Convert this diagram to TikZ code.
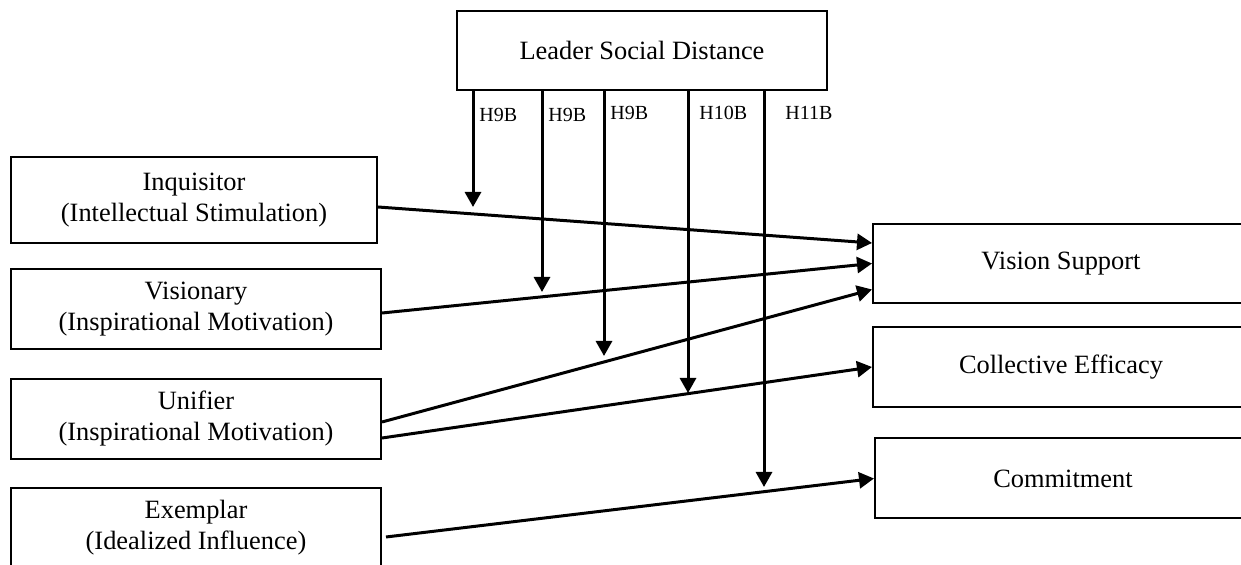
\documentclass[tikz,border=0pt]{standalone}
\usepackage{fontspec}
\setmainfont{Liberation Serif}
\usetikzlibrary{arrows.meta}

\begin{document}
\begin{tikzpicture}[x=0.5pt, y=-0.5pt,
    box/.style={draw, line width=1pt, inner sep=0pt, align=center,
      minimum width=185pt, minimum height=40pt,
      font=\fontsize{13.2}{15.5}\selectfont},
    hyp/.style={anchor=west, inner sep=0pt, font=\fontsize{10}{12}\selectfont},
    link/.style={line width=1.5pt, -{Triangle[length=7.5pt,width=8pt]}}]
  \useasboundingbox (0,0) rectangle (1241,565);
  \clip (0,0) rectangle (1241,565);

  % moderator
  \node[box, minimum height=39.5pt] (lsd) at (642,50.5) {Leader Social Distance};

  % leader roles
  \node[box, minimum width=183pt, minimum height=43pt] (inq) at (194,200)
    {Inquisitor\\(Intellectual Stimulation)};
  \node[box] (vis) at (196,309) {Visionary\\(Inspirational Motivation)};
  \node[box] (uni) at (196,419) {Unifier\\(Inspirational Motivation)};
  \node[box] (exm) at (196,528) {Exemplar\\(Idealized Influence)};

  % outcomes
  \node[box, minimum width=188pt, minimum height=39.5pt] (vs) at (1061,263.5) {Vision Support};
  \node[box, minimum width=188pt] (ce)  at (1061,367) {Collective Efficacy};
  \node[box, minimum width=188pt] (com) at (1063,478.5) {Commitment};

  % moderating paths
  \coordinate (m1) at (473,207);
  \coordinate (m2) at (542,292);
  \coordinate (m3) at (604,356);
  \coordinate (m4) at (688,393);
  \coordinate (m5) at (764,487);
  \foreach \m in {m1,m2,m3,m4,m5}
    \draw[link] (lsd.south -| \m) -- (\m);

  \node[hyp] (h1) at (479,115) {H9B};
  \node[hyp] (h2) at (548,115) {H9B};
  \node[hyp] (h3) at (610,113) {H9B};
  \node[hyp] (h4) at (699,113) {H10B};
  \node[hyp] (h5) at (785,113) {H11B};

  % direct paths
  \draw[link] ([yshift=-3.5pt]inq.east) -- ([yshift=10.25pt]vs.west);
  \draw[link] ([yshift=-2pt]vis.east) -- (vs.west);
  \draw[link] ([yshift=-1.5pt]uni.east) -- ([yshift=-13pt]vs.west);
  \draw[link] ([yshift=-9.5pt]uni.east) -- (ce.west);
  \draw[link] ([xshift=2pt,yshift=-4.5pt]exm.east) -- (com.west);
\end{tikzpicture}
\end{document}
